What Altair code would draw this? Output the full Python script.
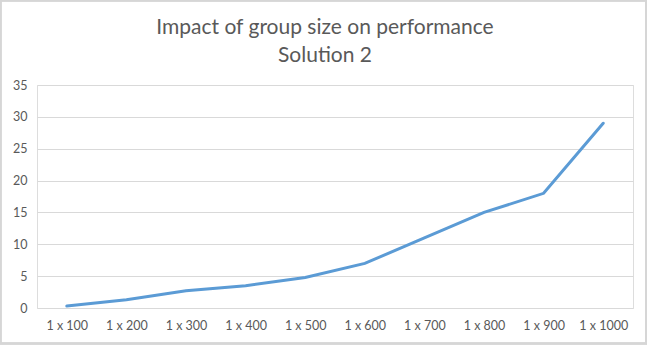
import altair as alt
import pandas as pd

categories = ["1 x 100", "1 x 200", "1 x 300", "1 x 400", "1 x 500",
              "1 x 600", "1 x 700", "1 x 800", "1 x 900", "1 x 1000"]
values = [0.3, 1.3, 2.7, 3.5, 4.8, 7.0, 11.0, 15.0, 18.0, 29.0]
title_lines = ["Impact of group size on performance", "Solution 2"]

df = pd.DataFrame({"size": categories, "time": values})

line = alt.Chart(df).mark_line(color="#5B9BD5", strokeWidth=3, strokeCap="round").encode(
    x=alt.X("size:N", sort=categories, title=None,
            scale=alt.Scale(type="point", padding=0.5),
            axis=alt.Axis(labelAngle=0, ticks=False, domain=False, grid=False,
                          labelPadding=11, labelFontSize=12.5, labelColor="#595959",
                          labelFont="Lato")),
    y=alt.Y("time:Q", title=None,
            scale=alt.Scale(domain=[0, 35], nice=False),
            axis=alt.Axis(values=[0, 5, 10, 15, 20, 25, 30, 35], ticks=False, domain=False,
                          gridColor="#D9D9D9", gridWidth=1, labelPadding=10,
                          labelFontSize=12.5, labelColor="#595959", labelFont="Lato")),
)

frame = alt.Chart(df).mark_rect(fill=None, stroke="#D6D6D6", strokeWidth=1.5).encode(
    x=alt.value(-36.5), x2=alt.value(609), y=alt.value(-84.5), y2=alt.value(258.5)
)

chart = alt.layer(line, frame).properties(
    width=596, height=223,
    title=alt.TitleParams(text=title_lines, fontSize=21, font="Lato", fontWeight="normal",
                          color="#595959", anchor="middle", dx=-10, offset=-66, lineHeight=28),
    autosize=alt.AutoSizeParams(type="none"),
    padding={"left": 37, "top": 85, "right": 17, "bottom": 38},
).configure_view(stroke=None).configure(background="white")

chart.save("out.html", embed_options={"renderer": "svg", "actions": False})
